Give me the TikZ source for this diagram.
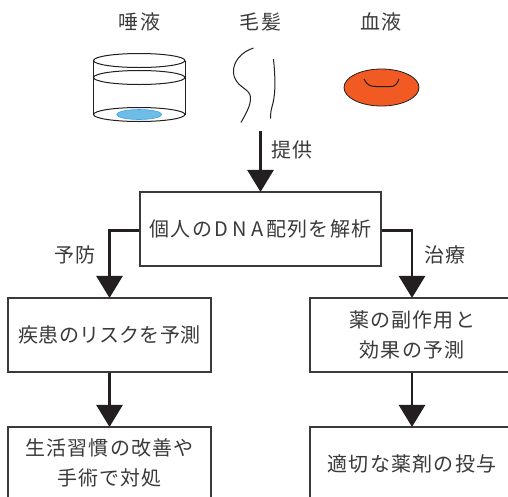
\documentclass[tikz,border=0pt]{standalone}
\usepackage{fontspec}
\usetikzlibrary{arrows.meta}
\newfontfamily\jpf[LetterSpace=6]{Noto Sans CJK JP}
\newfontfamily\jpn[LetterSpace=1]{Noto Sans CJK JP}
\definecolor{ink}{HTML}{3A3A3A}
\definecolor{arrowk}{HTML}{231F20}
\tikzset{
  lbl/.style={font=\jpf\fontsize{20}{30}\selectfont,text=ink,inner sep=0pt,align=center},
  box/.style={draw=ink,line width=1.1pt,fill=white,minimum height=74pt,inner sep=0pt,lbl},
  conn/.style={draw=arrowk,line width=2.8pt,-{Triangle[width=26pt,length=22pt]},shorten >=-0.5pt},
  thin/.style={draw=arrowk,line width=1pt},
}
\begin{document}
\begin{tikzpicture}[x=1pt,y=-1pt]
\useasboundingbox (0,0) rectangle (508,496);
\begin{scope}
\clip (0,0) rectangle (508,496);
\node[box,minimum width=241pt] (main) at (260.5,229) {個人の\kern2.5pt D\kern4.5pt N\kern4.5pt A\kern2.5pt 配列を解析};
\node[box,minimum width=203pt,font=\jpn\fontsize{20}{30}\selectfont] (risk) at (109.5,335) {疾患のリスクを予測};
\node[box,minimum width=204pt] (side) at (412,335) {薬の副作用と\\効果の予測};
\node[box,minimum width=203pt] (life) at (109.5,464) {};
\node[box,minimum width=204pt] (drug) at (412,464) {};
\end{scope}
\node[lbl] at (109.5,463) {生活習慣の改善や\\手術で対処};
\node[lbl] at (412,464) {適切な薬剤の投与};
\node[lbl] (saliva) at (139.5,22) {唾液};
\node[lbl] (hairl) at (260.5,22) {毛髪};
\node[lbl] (blood) at (381,22) {血液};
\node[lbl] (give) at (292,150) {提供};
\node[lbl] (prev) at (75,255) {予防};
\node[lbl] (treat) at (445,255) {治療};
\coordinate (src) at (260.5,131);
\draw[conn] (src) -- (main.north);
\draw[conn] ([yshift=-1.5pt]main.west) -| (risk.north);
\draw[conn] ([yshift=-1.5pt]main.east) -| (side.north);
\draw[conn] (risk.south) -- (risk.south |- life.north);
\draw[conn] (side.south) -- (side.south |- drug.north);
% beaker
\draw[thin] (93.5,60.5) -- (93.5,114.5) (185,60.5) -- (185,114.5);
\draw[thin] (139.2,60.5) ellipse [x radius=45.7,y radius=7];
\draw[thin] (139.2,77.5) ellipse [x radius=45.7,y radius=7];
\draw[thin] (139.2,114.5) ellipse [x radius=45.7,y radius=7];
\fill[fill={rgb,255:red,111;green,188;blue,232},draw={rgb,255:red,58;green,168;blue,224},line width=0.6pt] (139.2,114.5) ellipse [x radius=22.5,y radius=5];
% hair
\draw[thin] (253.5,48) .. controls (241,52) and (233,62) .. (233.5,72) .. controls (234,87) and (250,88) .. (250.5,97) .. controls (251,106) and (245,115) .. (241,122.5);
\draw[thin] (273.5,59) .. controls (275,75) and (276,90) .. (273,103) .. controls (271,110) and (270.5,113) .. (270.5,118.5);
% blood cell
\draw[draw=arrowk,line width=0.8pt,fill={rgb,255:red,241;green,90;blue,34}] (381.5,87.5) ellipse [x radius=37.5,y radius=18.5];
\draw[thin] (364,79) .. controls (367,85) and (370,86.5) .. (376,86.5) -- (391,86.5) .. controls (395,86.5) and (397,84) .. (399,79);
\end{tikzpicture}
\end{document}
